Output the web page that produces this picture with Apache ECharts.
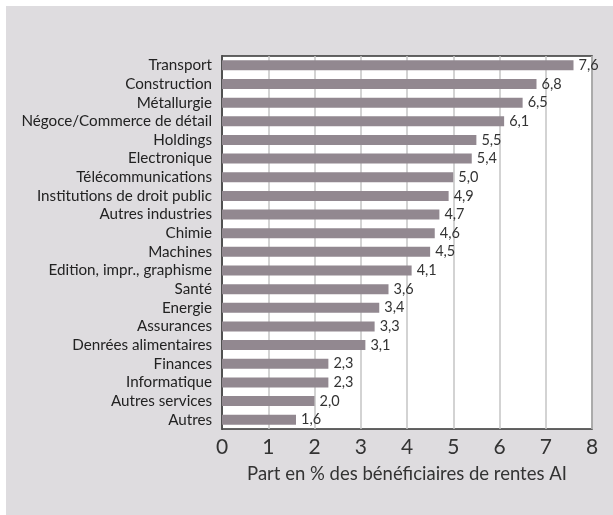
<!DOCTYPE html>
<html><head><meta charset="utf-8">
<script src="https://cdn.jsdelivr.net/npm/echarts@6/dist/echarts.min.js"></script>
<style>html,body{margin:0;padding:0;background:#fff}#c{width:613px;height:515px}</style>
</head><body><div id="c"></div>
<script>
const categories = ["Transport","Construction","Métallurgie","Négoce/Commerce de détail","Holdings","Electronique","Télécommunications","Institutions de droit public","Autres industries","Chimie","Machines","Edition, impr., graphisme","Santé","Energie","Assurances","Denrées alimentaires","Finances","Informatique","Autres services","Autres"];
const values = [7.6,6.8,6.5,6.1,5.5,5.4,5.0,4.9,4.7,4.6,4.5,4.1,3.6,3.4,3.3,3.1,2.3,2.3,2.0,1.6];
const xTicks = [0,1,2,3,4,5,6,7,8];
const axisTitle = "Part en % des bénéficiaires de rentes AI";

const chart = echarts.init(document.getElementById('c'), null, {renderer:'canvas'});
const FONT = 'Lato';
chart.setOption({
  animation:false,
  backgroundColor:'#ffffff',
  graphic:[{type:'rect', z:-10, shape:{x:6,y:6,width:607,height:509}, style:{fill:'#dedcdf'}}],
  grid:{left:222, top:56, width:370, height:373, show:true, backgroundColor:'#ffffff', borderColor:'#333', borderWidth:1.5},
  xAxis:{type:'value', min:0, max:8, interval:1,
    axisLine:{show:false}, axisTick:{show:false},
    splitLine:{lineStyle:{color:'#c4c4c4', width:1.5}},
    axisLabel:{color:'#333', fontSize:21, fontFamily:FONT, margin:8, formatter:v=>String(v)},
    name:axisTitle, nameLocation:'middle', nameGap:36,
    nameTextStyle:{color:'#333', fontSize:18.5, fontFamily:FONT}},
  yAxis:{type:'category', data:categories, inverse:true,
    axisLine:{show:true, lineStyle:{color:'#333', width:1.5}}, axisTick:{show:false},
    axisLabel:{color:'#222', fontSize:15.2, fontFamily:FONT, margin:10, interval:0}},
  series:[{type:'bar', data:values, barWidth:10, itemStyle:{color:'#928890'},
    label:{show:true, position:'right', distance:5, color:'#333', fontSize:14.5, fontFamily:FONT,
      formatter:p=>p.value.toFixed(1).replace('.',',')}}]
});
</script></body></html>
